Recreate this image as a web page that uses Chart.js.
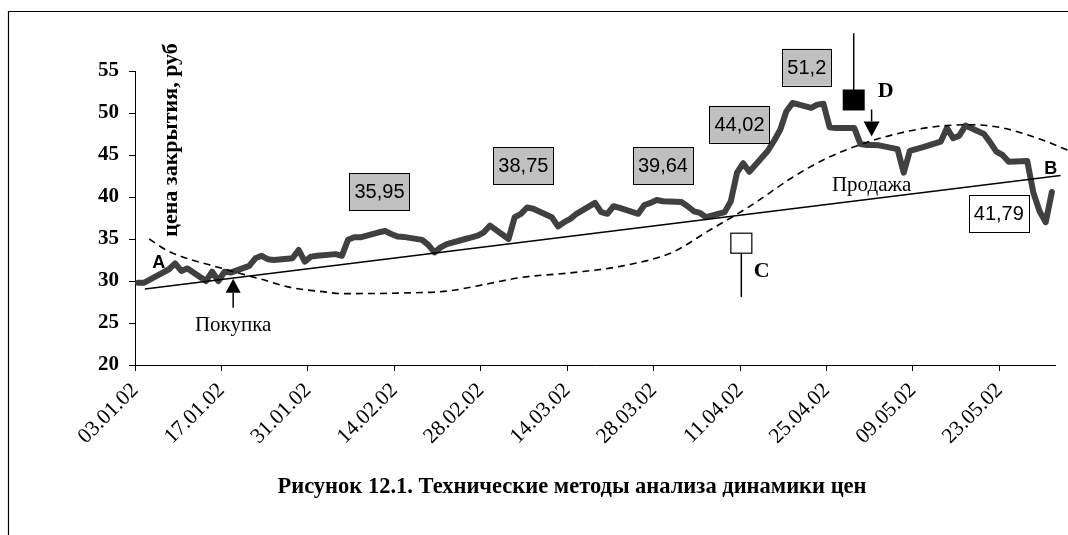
<!DOCTYPE html>
<html>
<head>
<meta charset="utf-8">
<script src="https://cdn.jsdelivr.net/npm/chart.js@4.4.1/dist/chart.umd.min.js"></script>
<style>
    html, body { margin: 0; padding: 0; background: #fff; }
    canvas { display: block; }
</style>
</head>
<body>
<canvas id="priceChart" width="1068" height="535"></canvas>
<script>
// =====================
// Данные
// =====================
// торговые дни (будни) с 03.01.02 по 31.05.02
const firstDay = [2002, 0, 3];
const lastDay = [2002, 4, 31];

// подписи оси X (каждые 14 дней)
const tickLabels = ["03.01.02", "17.01.02", "31.01.02", "14.02.02", "28.02.02", "14.03.02",
    "28.03.02", "11.04.02", "25.04.02", "09.05.02", "23.05.02"];

// цена закрытия, руб
const closePrices = [
    // январь
    29.8, 29.8, 31.0, 31.4, 32.1, 31.2, 31.5, 30.0, 31.1, 30.0, 31.1, 31.0,
    31.8, 32.7, 33.0, 32.6, 32.5, 32.7, 33.7, 32.3, 32.9,
    // февраль
    33.0, 33.2, 33.0, 34.9, 35.2, 35.2, 35.8, 35.95, 35.6, 35.3, 35.25,
    34.9, 34.3, 33.4, 34.0, 34.4, 35.0, 35.2, 35.4, 35.8,
    // март
    36.6, 35.0, 37.6, 38.0, 38.75, 38.6, 37.6, 36.5, 37.0, 37.4, 38.0,
    39.3, 38.2, 38.0, 38.9, 38.7, 38.0, 39.05, 39.3, 39.64, 39.5,
    // апрель
    39.4, 38.9, 38.3, 38.1, 37.6, 38.2, 39.5, 42.9, 44.02, 43.0, 45.5,
    46.7, 48.0, 50.2, 51.2, 50.6, 51.0, 51.1, 48.3, 48.2, 48.2, 46.3,
    // май
    46.2, 46.2, 46.15, 45.7, 42.9, 45.5, 45.7, 45.9, 46.6, 48.2, 47.0, 47.3,
    48.5, 47.5, 46.5, 45.4, 45.0, 44.2, 44.3, 40.5, 38.3, 37.0, 40.6
];

// линия тренда A-B (день от 03.01.02, цена)
const trendDays = [1.6, 149.9];
const trendValues = [29.05, 42.55];

// сглаженная кривая (пунктир)
const smoothDays = [2.3, 5.3, 14.6, 20.5, 25.4, 30.7, 33.3, 45.1, 50.6, 57.4, 62.3, 70.9,
    79, 87, 92.5, 99.8, 106.2, 111.7, 118.1, 123.8, 129.8, 135.1, 140, 145.8, 151];
const smoothValues = [35.0, 33.6, 31.4, 30.2, 29.2, 28.7, 28.5, 28.6, 28.8, 29.7, 30.4, 31.0,
    31.8, 33.4, 35.8, 39.0, 42.2, 44.5, 46.4, 47.6, 48.4, 48.6, 48.3, 47.1, 45.6];

// подписи-выноски
const calloutTexts = ["35,95", "38,75", "39,64", "44,02", "51,2", "41,79"];

// =====================
// Подготовка точек
// =====================
const dayMs = 86400000;
const startMs = Date.UTC(...firstDay);
const endMs = Date.UTC(...lastDay);
const tradeDays = [];
for (let t = startMs; t <= endMs; t += dayMs) {
    const wd = new Date(t).getUTCDay();
    if (wd !== 0 && wd !== 6) tradeDays.push((t - startMs) / dayMs);
}
const pricePoints = closePrices.map((v, i) => ({ x: tradeDays[i] + 0.5, y: v }));
const trendPoints = trendDays.map((d, i) => ({ x: d, y: trendValues[i] }));
const smoothPoints = smoothDays.map((d, i) => ({ x: d, y: smoothValues[i] }));

// =====================
// Оформление выносок (в координатах осей: день, цена)
// =====================
const calloutPos = [
    { x: 39.6, y: 40.6, fill: "#c0c0c0" },
    { x: 62.9, y: 43.72, fill: "#c0c0c0" },
    { x: 85.5, y: 43.72, fill: "#c0c0c0" },
    { x: 97.9, y: 48.65, fill: "#c0c0c0" },
    { x: 108.8, y: 55.45, fill: "#c0c0c0" },
    { x: 139.9, y: 38.06, fill: "#ffffff" }
];

const SERIF = "'Liberation Serif', 'Times New Roman', serif";
const SANS = "'Liberation Sans', Arial, sans-serif";

function drawArrow(ctx, x, tipY, dir, head, len, half) {
    // dir = -1: стрелка вверх, 1: вниз
    ctx.beginPath();
    ctx.moveTo(x, tipY - dir * len);
    ctx.lineTo(x, tipY - dir * head);
    ctx.stroke();
    ctx.beginPath();
    ctx.moveTo(x, tipY);
    ctx.lineTo(x - half, tipY - dir * head);
    ctx.lineTo(x + half, tipY - dir * head);
    ctx.closePath();
    ctx.fill();
}

const notesPlugin = {
    id: "notes",
    afterDraw(chart) {
        const ctx = chart.ctx;
        const sx = chart.scales.x;
        const sy = chart.scales.y;
        const px = d => sx.getPixelForValue(d);
        const py = v => sy.getPixelForValue(v);

        ctx.save();
        ctx.strokeStyle = "#000";
        ctx.fillStyle = "#000";

        // рамка рисунка
        ctx.lineWidth = 1.2;
        ctx.beginPath();
        ctx.moveTo(8.5, 535);
        ctx.lineTo(8.5, 11.5);
        ctx.lineTo(1068, 11.5);
        ctx.stroke();

        // выноски со значениями
        ctx.font = "20px " + SANS;
        ctx.textAlign = "center";
        ctx.textBaseline = "middle";
        calloutTexts.forEach((t, i) => {
            const p = calloutPos[i];
            const cx = px(p.x), cy = py(p.y);
            const w = ctx.measureText(t).width + 10;
            const h = 37;
            ctx.fillStyle = p.fill;
            ctx.fillRect(cx - w / 2, cy - h / 2, w, h);
            ctx.lineWidth = 1;
            ctx.strokeRect(Math.round(cx - w / 2) + 0.5, Math.round(cy - h / 2) + 0.5, Math.round(w), h);
            ctx.fillStyle = "#000";
            ctx.fillText(t, cx, cy + 1);
        });

        // буквы A, B
        ctx.font = "bold 18px " + SANS;
        ctx.fillText("A", px(3.85), py(32.1));
        ctx.fillText("B", px(148.3), py(43.35));

        // буквы C, D
        ctx.font = "bold 22px " + SERIF;
        ctx.fillText("C", px(101.5), py(31.2));
        ctx.fillText("D", px(121.6), py(52.6));

        // покупка
        ctx.font = "21px " + SERIF;
        ctx.textBaseline = "alphabetic";
        ctx.fillText("Покупка", px(15.9), py(24.1));
        ctx.lineWidth = 1.5;
        drawArrow(ctx, px(15.9), py(30.26), -1, 14, 29, 7.5);

        // продажа
        ctx.fillText("Продажа", px(119.3), py(40.76));
        drawArrow(ctx, px(119.3), py(47.2), 1, 15, 27, 8);

        // маркер D (чёрный квадрат с хвостом вверх)
        const dx = px(116.4), dy = py(51.55);
        ctx.lineWidth = 1.5;
        ctx.beginPath();
        ctx.moveTo(dx, dy);
        ctx.lineTo(dx, py(59.5));
        ctx.stroke();
        ctx.fillRect(dx - 11, dy - 10.5, 22, 21);

        // маркер C (белый квадрат с хвостом вниз)
        const cx = px(98.2), cy = py(34.5);
        ctx.beginPath();
        ctx.moveTo(cx, cy);
        ctx.lineTo(cx, py(28.1));
        ctx.stroke();
        ctx.fillStyle = "#fff";
        ctx.fillRect(cx - 10.5, cy - 10, 21, 20);
        ctx.lineWidth = 1.2;
        ctx.strokeRect(cx - 10.5, cy - 10, 21, 20);
        ctx.fillStyle = "#000";

        // подпись оси Y
        ctx.save();
        ctx.translate(176.5, 140);
        ctx.rotate(-Math.PI / 2);
        ctx.font = "bold 22px " + SERIF;
        ctx.textAlign = "center";
        ctx.fillText("цена закрытия, руб", 0, 0);
        ctx.restore();

        // подпись рисунка
        ctx.font = "bold 22.5px " + SERIF;
        ctx.textAlign = "center";
        ctx.fillText("Рисунок 12.1. Технические методы анализа динамики цен", 572, 493);

        ctx.restore();
    }
};

// =====================
// График
// =====================
new Chart(document.getElementById("priceChart"), {
    type: "line",
    data: {
        datasets: [
            {
                data: trendPoints,
                borderColor: "#000",
                borderWidth: 1.5,
                pointRadius: 0,
                fill: false,
                clip: false
            },
            {
                data: smoothPoints,
                borderColor: "#000",
                borderWidth: 1.6,
                borderDash: [7, 5],
                pointRadius: 0,
                fill: false,
                cubicInterpolationMode: "monotone",
                clip: false
            },
            {
                data: pricePoints,
                borderColor: "#404040",
                borderWidth: 6,
                borderJoinStyle: "round",
                borderCapStyle: "round",
                pointRadius: 0,
                fill: false,
                tension: 0
            }
        ]
    },
    options: {
        responsive: false,
        animation: false,
        devicePixelRatio: 1,
        layout: { padding: { top: 71, right: 13, left: 0, bottom: 0 } },
        plugins: {
            legend: { display: false },
            tooltip: { enabled: false }
        },
        scales: {
            x: {
                type: "linear",
                min: 0,
                max: 149,
                afterBuildTicks: s => { s.ticks = tickLabels.map((_, i) => ({ value: i * 14 })); },
                afterFit: s => { s.height = 170; },
                ticks: {
                    autoSkip: false,
                    minRotation: 45,
                    maxRotation: 45,
                    padding: 7,
                    color: "#000",
                    font: { family: SERIF, size: 21.5 },
                    callback: v => tickLabels[Math.round(v / 14)]
                },
                grid: {
                    drawOnChartArea: false,
                    drawTicks: true,
                    tickLength: 6,
                    tickColor: "#000",
                    tickWidth: 1
                },
                border: { display: true, color: "#000", width: 1 }
            },
            y: {
                min: 20,
                max: 55,
                afterFit: s => { s.width = 135; },
                ticks: {
                    stepSize: 5,
                    padding: 10,
                    color: "#000",
                    font: { family: SERIF, size: 21, weight: "bold" }
                },
                grid: {
                    drawOnChartArea: false,
                    drawTicks: true,
                    tickLength: 6,
                    tickColor: "#000",
                    tickWidth: 1
                },
                border: { display: true, color: "#000", width: 1 }
            }
        }
    },
    plugins: [notesPlugin]
});
</script>
</body>
</html>
